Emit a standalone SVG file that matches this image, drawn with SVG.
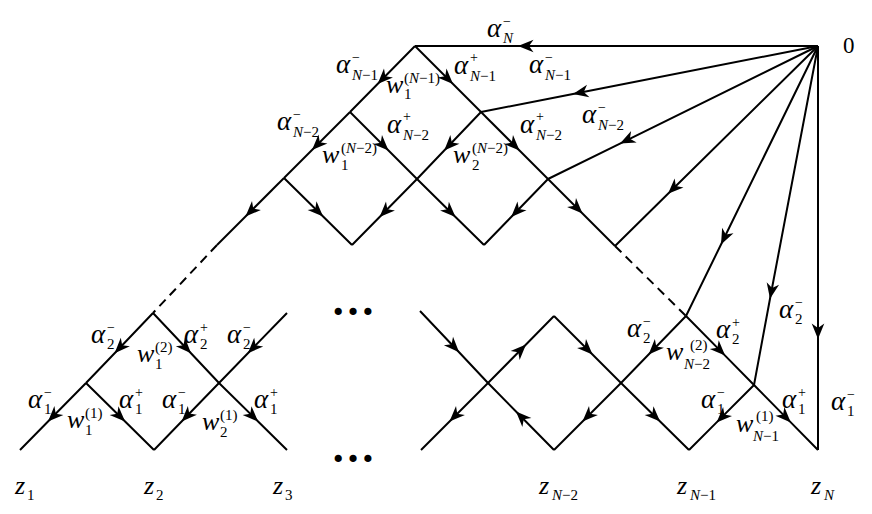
<svg xmlns="http://www.w3.org/2000/svg" width="872" height="514" viewBox="0 0 872 514" font-family="'Liberation Serif', 'Times New Roman', serif">
<style>
.l{fill:none;stroke:#000;stroke-width:2}
.a{marker-mid:url(#ah)}
.d{stroke-dasharray:9 6}
text{font-family:"Liberation Serif","Times New Roman",serif;fill:#000}
.m{font-size:27px;font-style:italic}
.w{font-size:26px;font-style:italic}
.s{font-size:15px;font-style:italic}
.g{font-size:14px;font-style:normal}
.u{font-style:normal}
.z{font-size:23px;font-style:normal}
.e{font-size:44px;font-weight:bold}
</style>
<defs>
<marker id="ah" markerUnits="userSpaceOnUse" markerWidth="20" markerHeight="16" viewBox="-18 -8 20 16" refX="0" refY="0" orient="auto">
<path d="M0,0 L-15.5,-6.3 L-11,0 L-15.5,6.3 Z" fill="#000"/>
</marker>
</defs>
<rect width="872" height="514" fill="#fff"/>
<g id="connectors">
<path class="l a" d="M818,46 L518,46 L415,46"/>
<path class="l a" d="M818,46 L573,94 L481,112"/>
<path class="l a" d="M818,46 L620,143.6 L548,179"/>
<path class="l a" d="M818,46 L668,193.8 L615,246"/>
<path class="l a" d="M818,46 L721,244.5 L686,316"/>
<path class="l a" d="M818,46 L770,298.7 L754,385"/>
<path class="l a" d="M818,46 L818,339 L818,450"/>
<path class="l a" d="M415,46 L377.6,84 L350,112"/>
<path class="l a" d="M350,112 L312,150 L284,178"/>
<path class="l a" d="M284,178 L245.5,216.5 L217,245"/>
<path class="l a" d="M350,112 L388.5,150.5 L417,179"/>
<path class="l a" d="M417,179 L455.5,217 L484,245"/>
<path class="l a" d="M284,178 L323.1,216.5 L352,245"/>
<path class="l a" d="M481,112 L444.2,150.5 L417,179"/>
<path class="l a" d="M417,179 L379.6,217 L352,245"/>
<path class="l a" d="M415,46 L453,84 L481,112"/>
<path class="l a" d="M481,112 L519.5,150.5 L548,179"/>
<path class="l a" d="M548,179 L582.5,213.5 L615,246"/>
<path class="l a" d="M548,179 L511.2,217 L484,245"/>
<path class="l d" d="M217,245 L153,313"/>
<path class="l d" d="M615,246 L686,316"/>
<path class="l a" d="M153,313 L114.6,353.2 L86,383"/>
<path class="l a" d="M86,383 L48,421.5 L20,450"/>
<path class="l a" d="M86,383 L125.1,421.5 L154,450"/>
<path class="l a" d="M153,313 L191,353.2 L219,383"/>
<path class="l a" d="M219,383 L258.1,421.5 L287,450"/>
<path class="l a" d="M287,313 L247.9,353.2 L219,383"/>
<path class="l a" d="M219,383 L181.6,421.5 L154,450"/>
<path class="l a" d="M420,311 L459.1,352.3 L488,383"/>
<path class="l a" d="M554,450 L516,411.5 L488,383"/>
<path class="l a" d="M488,383 L449.5,421.5 L421,450"/>
<path class="l a" d="M488,383 L526,344.5 L554,316"/>
<path class="l a" d="M554,316 L592.5,354.5 L621,383"/>
<path class="l a" d="M621,383 L660.1,421.5 L689,450"/>
<path class="l a" d="M686,316 L648.6,354.5 L621,383"/>
<path class="l a" d="M621,383 L582.5,421.5 L554,450"/>
<path class="l a" d="M686,316 L725.1,355.6 L754,385"/>
<path class="l a" d="M754,385 L790.8,422.4 L818,450"/>
<path class="l a" d="M754,385 L716.6,422.4 L689,450"/>
</g>
<g id="dots">
<text class="e" x="331" y="315">…</text>
<text class="e" x="331" y="462">…</text>
</g>
<g id="origin"><text class="z" x="843" y="53">0</text></g>
<g id="top-labels">
<g id="aN"><text class="m" x="487" y="37">α</text><text class="g" x="503" y="26">−</text><text class="s" x="503" y="43">N</text></g>
<g id="aNm1-l"><text class="m" x="336" y="73">α</text><text class="g" x="352" y="62">−</text><text class="s" x="352" y="80">N<tspan class="u">−1</tspan></text></g>
<g id="w1Nm1"><text class="w" x="386" y="93">w</text><text class="s" x="404" y="83"><tspan class="u">(</tspan>N<tspan class="u">−1)</tspan></text><text class="s u" x="404" y="99">1</text></g>
<g id="aNm1p"><text class="m" x="454" y="74">α</text><text class="g" x="470" y="62">+</text><text class="s" x="470" y="81">N<tspan class="u">−1</tspan></text></g>
<g id="aNm1-r"><text class="m" x="529" y="73">α</text><text class="g" x="545" y="62">−</text><text class="s" x="545" y="80">N<tspan class="u">−1</tspan></text></g>
<g id="aNm2-l"><text class="m" x="277" y="130">α</text><text class="g" x="293" y="119">−</text><text class="s" x="293" y="137">N<tspan class="u">−2</tspan></text></g>
<g id="w1Nm2"><text class="w" x="322" y="163">w</text><text class="s" x="341" y="153"><tspan class="u">(</tspan>N<tspan class="u">−2)</tspan></text><text class="s u" x="341" y="170">1</text></g>
<g id="aNm2p-m"><text class="m" x="387" y="133">α</text><text class="g" x="403" y="121">+</text><text class="s" x="403" y="140">N<tspan class="u">−2</tspan></text></g>
<g id="w2Nm2"><text class="w" x="453" y="163">w</text><text class="s" x="472" y="153"><tspan class="u">(</tspan>N<tspan class="u">−2)</tspan></text><text class="s u" x="472" y="170">2</text></g>
<g id="aNm2p-r"><text class="m" x="520" y="133">α</text><text class="g" x="536" y="121">+</text><text class="s" x="536" y="140">N<tspan class="u">−2</tspan></text></g>
<g id="aNm2-r"><text class="m" x="582" y="123">α</text><text class="g" x="598" y="112">−</text><text class="s" x="598" y="130">N<tspan class="u">−2</tspan></text></g>
</g>
<g id="left-labels">
<g id="a2m-1"><text class="m" x="91" y="343">α</text><text class="g" x="107" y="332">−</text><text class="s u" x="107" y="349">2</text></g>
<g id="w12"><text class="w" x="137" y="362">w</text><text class="s u" x="155" y="352">(2)</text><text class="s u" x="155" y="369">1</text></g>
<g id="a2p-1"><text class="m" x="184" y="343">α</text><text class="g" x="200" y="332">+</text><text class="s u" x="200" y="349">2</text></g>
<g id="a2m-2"><text class="m" x="227" y="343">α</text><text class="g" x="243" y="332">−</text><text class="s u" x="243" y="349">2</text></g>
<g id="a1m-1"><text class="m" x="28" y="408">α</text><text class="g" x="44" y="397">−</text><text class="s u" x="44" y="414">1</text></g>
<g id="w11"><text class="w" x="67" y="428">w</text><text class="s u" x="85" y="418">(1)</text><text class="s u" x="85" y="435">1</text></g>
<g id="a1p-1"><text class="m" x="119" y="408">α</text><text class="g" x="135" y="397">+</text><text class="s u" x="135" y="414">1</text></g>
<g id="a1m-2"><text class="m" x="162" y="408">α</text><text class="g" x="178" y="397">−</text><text class="s u" x="178" y="414">1</text></g>
<g id="w21"><text class="w" x="202" y="430">w</text><text class="s u" x="220" y="420">(1)</text><text class="s u" x="220" y="437">2</text></g>
<g id="a1p-2"><text class="m" x="254" y="408">α</text><text class="g" x="270" y="397">+</text><text class="s u" x="270" y="414">1</text></g>
</g>
<g id="right-labels">
<g id="a2m-3"><text class="m" x="627" y="337">α</text><text class="g" x="643" y="326">−</text><text class="s u" x="643" y="343">2</text></g>
<g id="a2p-3"><text class="m" x="716" y="338">α</text><text class="g" x="732" y="327">+</text><text class="s u" x="732" y="344">2</text></g>
<g id="wNm22"><text class="w" x="666" y="360">w</text><text class="s u" x="690" y="350">(2)</text><text class="s" x="684" y="369">N<tspan class="u">−2</tspan></text></g>
<g id="a2m-4"><text class="m" x="779" y="318">α</text><text class="g" x="795" y="307">−</text><text class="s u" x="795" y="324">2</text></g>
<g id="a1m-3"><text class="m" x="701" y="408">α</text><text class="g" x="717" y="397">−</text><text class="s u" x="717" y="414">1</text></g>
<g id="a1p-3"><text class="m" x="782" y="408">α</text><text class="g" x="798" y="397">+</text><text class="s u" x="798" y="414">1</text></g>
<g id="a1m-4"><text class="m" x="831" y="410">α</text><text class="g" x="847" y="399">−</text><text class="s u" x="847" y="416">1</text></g>
<g id="wNm11"><text class="w" x="736" y="432">w</text><text class="s u" x="756" y="421">(1)</text><text class="s" x="753" y="441">N<tspan class="u">−1</tspan></text></g>
</g>
<g id="z-labels">
<g id="z1"><text class="w" x="15" y="494">z</text><text class="s u" x="27" y="500">1</text></g>
<g id="z2"><text class="w" x="144" y="494">z</text><text class="s u" x="156" y="500">2</text></g>
<g id="z3"><text class="w" x="273" y="494">z</text><text class="s u" x="285" y="500">3</text></g>
<g id="zNm2"><text class="w" x="539" y="494">z</text><text class="s" x="552" y="500">N<tspan class="u">−2</tspan></text></g>
<g id="zNm1"><text class="w" x="677" y="494">z</text><text class="s" x="690" y="500">N<tspan class="u">−1</tspan></text></g>
<g id="zN"><text class="w" x="811" y="494">z</text><text class="s" x="824" y="500">N</text></g>
</g>
</svg>
